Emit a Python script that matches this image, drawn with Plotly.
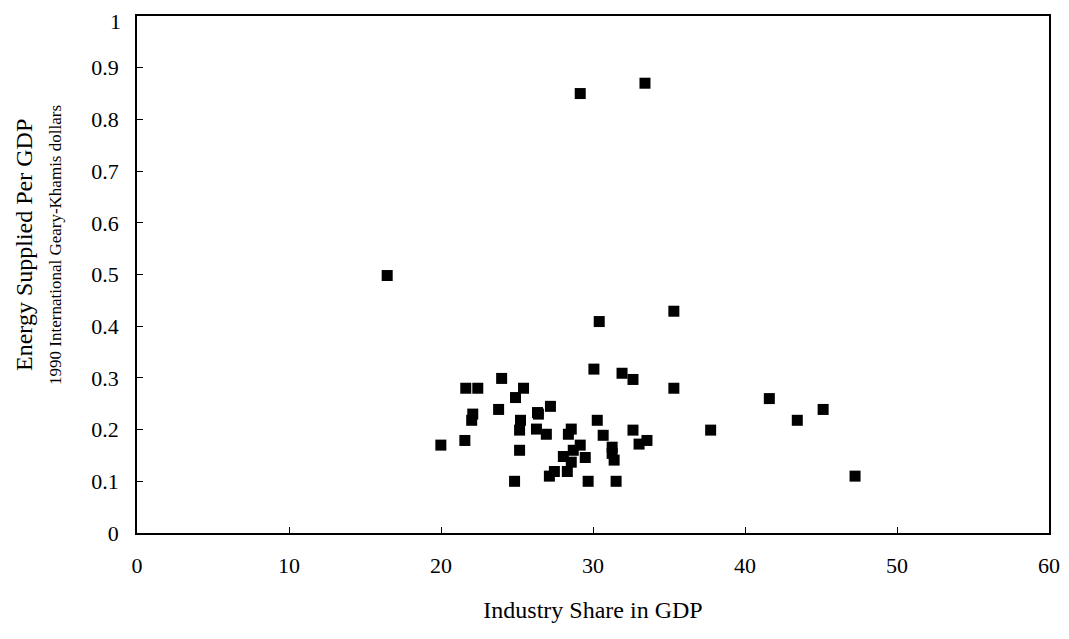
import plotly.graph_objects as go

industry_share = [16.46, 35.32, 30.41, 30.06, 31.91, 32.63, 35.32, 23.99, 21.63, 22.42, 25.43,
                  24.90, 27.20, 23.79, 26.35, 26.41, 22.09, 22.02, 25.23, 30.28, 25.17, 26.28,
                  26.93, 28.57, 28.38, 30.67, 32.63, 37.74, 21.57, 19.99, 25.17, 29.16, 28.70,
                  31.26, 31.26, 33.55, 33.03, 28.05, 29.49, 31.39, 28.57, 28.31, 27.46, 27.13,
                  24.84, 29.68, 31.52, 41.6, 45.14, 43.44, 47.24, 29.16, 33.42]
energy_per_gdp = [0.498, 0.429, 0.409, 0.317, 0.309, 0.297, 0.280, 0.299, 0.280, 0.280, 0.280,
                  0.262, 0.245, 0.239, 0.233, 0.230, 0.230, 0.218, 0.218, 0.218, 0.199, 0.201,
                  0.191, 0.201, 0.191, 0.189, 0.199, 0.199, 0.179, 0.170, 0.160, 0.170, 0.160,
                  0.166, 0.154, 0.179, 0.172, 0.148, 0.146, 0.141, 0.137, 0.119, 0.119, 0.110,
                  0.100, 0.100, 0.100, 0.260, 0.239, 0.218, 0.110, 0.850, 0.870]

x_ticks = [0, 10, 20, 30, 40, 50, 60]
y_ticks = [0, 0.1, 0.2, 0.3, 0.4, 0.5, 0.6, 0.7, 0.8, 0.9, 1]
y_tick_text = ["0", "0.1", "0.2", "0.3", "0.4", "0.5", "0.6", "0.7", "0.8", "0.9", ""]
top_tick_label = "1"

font = "Liberation Serif, Times New Roman, serif"
fig = go.Figure(go.Scatter(x=industry_share, y=energy_per_gdp, mode="markers",
                           marker=dict(symbol="square", size=11, color="black"),
                           cliponaxis=False))
fig.update_layout(
    width=1061, height=631, plot_bgcolor="white", paper_bgcolor="white",
    margin=dict(l=129, r=20, t=8, b=106, autoexpand=False), showlegend=False,
    font=dict(family=font, size=22, color="black"),
)
fig.update_xaxes(range=[0, 60], tickvals=x_ticks, showgrid=False, zeroline=False,
                 showline=True, linecolor="black", linewidth=1.5, mirror=True,
                 ticks="inside", ticklen=6, tickcolor="black", ticklabelstandoff=12,
                 automargin=False,
                 title=dict(text="Industry Share in GDP", standoff=24, font=dict(size=24)))
fig.update_yaxes(range=[0, 1], tickvals=y_ticks, ticktext=y_tick_text, showgrid=False, zeroline=False,
                 showline=True, linecolor="black", linewidth=1.5, mirror=True,
                 ticks="inside", ticklen=6, tickcolor="black", ticklabelstandoff=12,
                 automargin=False)
fig.add_annotation(text=top_tick_label, xref="paper", yref="y", x=0, y=y_ticks[-1], xshift=-14, yshift=-5,
                   showarrow=False, xanchor="right", yanchor="middle", font=dict(size=22))
fig.add_annotation(text="Energy Supplied Per GDP", xref="paper", yref="paper", x=-0.124, y=0.557,
                   textangle=-90, showarrow=False, font=dict(size=24), xanchor="center", yanchor="middle")
fig.add_annotation(text="1990 International Geary-Khamis dollars", xref="paper", yref="paper",
                   x=-0.09, y=0.557, textangle=-90, showarrow=False, font=dict(size=17),
                   xanchor="center", yanchor="middle")
fig.write_html("out.html")
